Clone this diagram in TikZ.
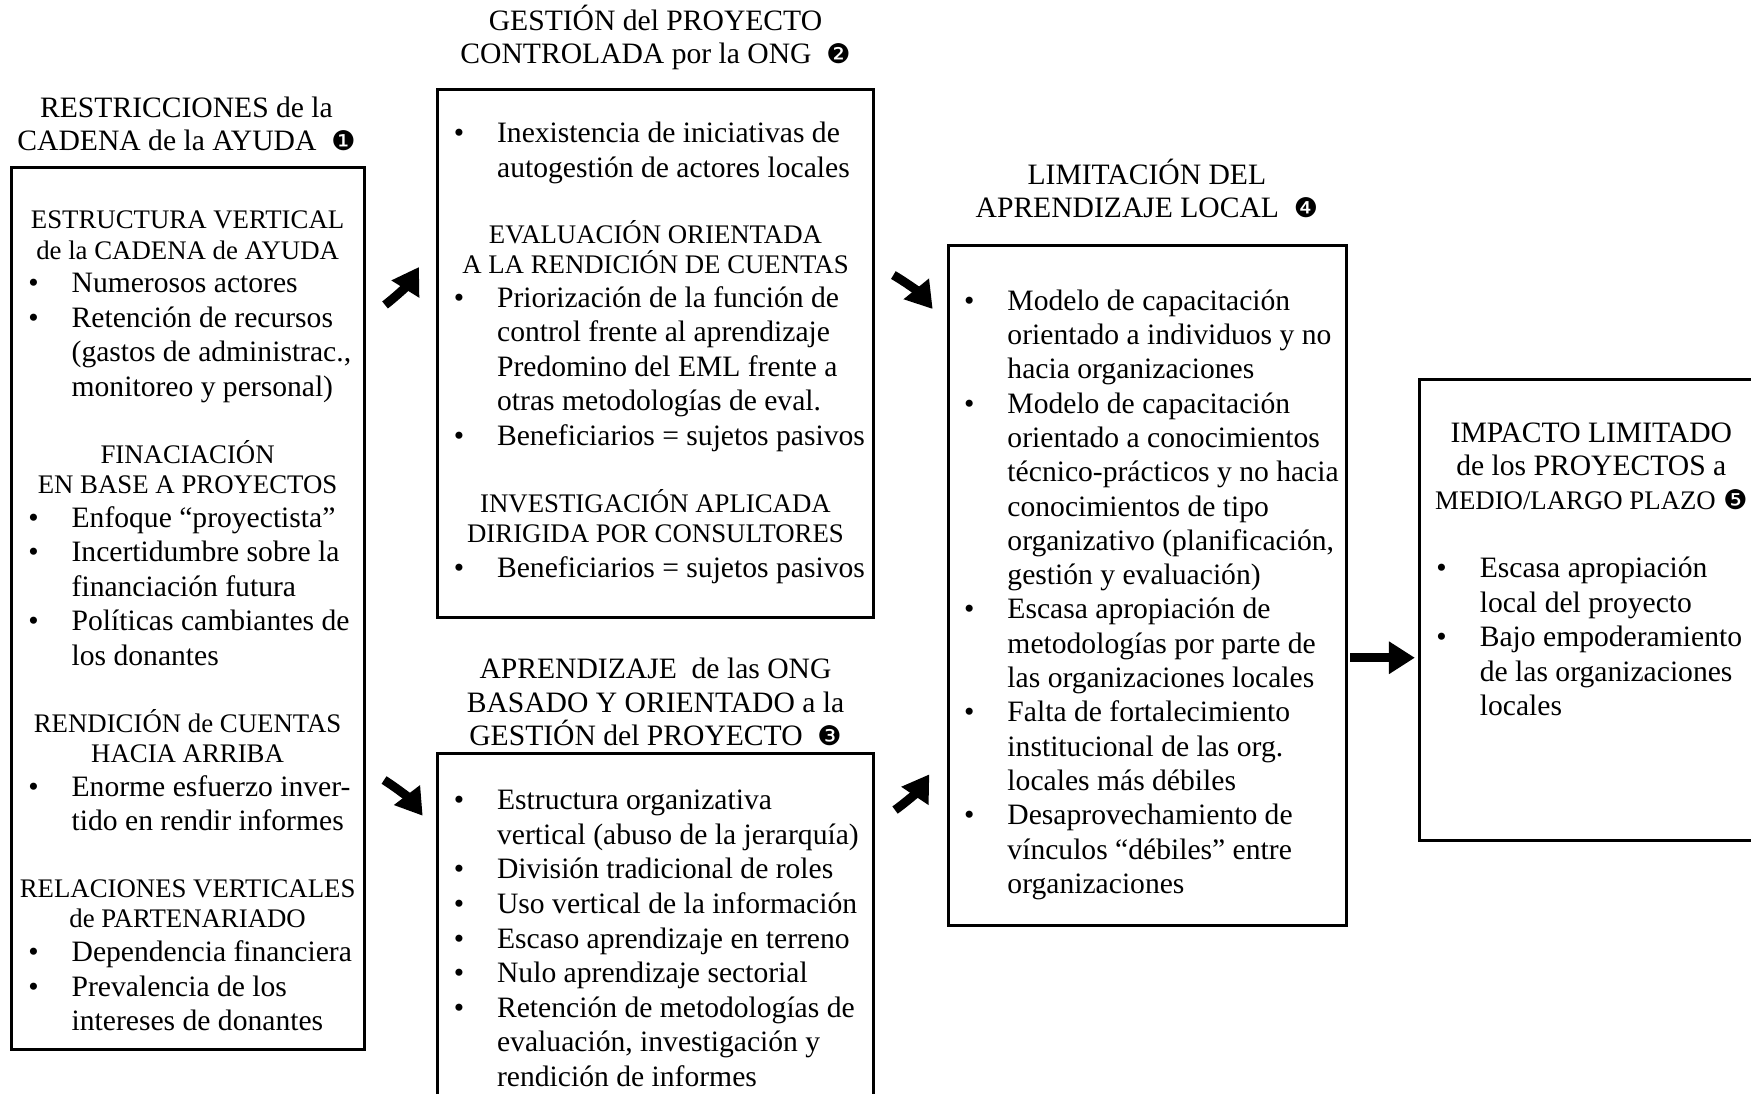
\documentclass[tikz,border=0pt]{standalone}
\usepackage{fontspec}
\setmainfont{Liberation Serif}
\newfontfamily\dingfont{DejaVu Sans}
\usetikzlibrary{arrows.meta}
\newcommand\bodysize{\fontsize{29.6}{34.6}\selectfont}
\newcommand\titlesize{\fontsize{29.6}{33.5}\selectfont}
\newcommand\headsize{\fontsize{26.8}{30.5}\selectfont}
\newcommand\bi{\llap{•\hspace{33pt}}}
\newcommand\num[1]{{\dingfont\fontsize{27}{27}\selectfont #1}}
\begin{document}
% Multi-line nodes are placed by the baseline of their last line.
\begin{tikzpicture}[x=1.1167pt,y=-1.1167pt,
  box/.style={draw, line width=3pt},
  ttl/.style={anchor=base, align=center, inner sep=0pt, font=\titlesize},
  hd/.style={anchor=base, align=center, inner sep=0pt, font=\headsize},
  txt/.style={anchor=base west, align=left, inner sep=0pt, font=\bodysize},
  blk/.style={line width=9pt, -{Triangle[length=26pt,width=31pt]}}]
\clip (0,0) rectangle (1568,979);

% ---- frames ----
\draw[box] (10,150) rectangle (326,940);
\draw[box] (392,80) rectangle (782,553);
\draw[box] (392,675) rectangle (782,1000);
\draw[box] (849,220) rectangle (1206,829);
\draw[box] (1271,340) rectangle (1600,753);

% ---- 1: restrictions of the aid chain ----
\node[ttl] (t1) at (167,135) {RESTRICCIONES de la\\CADENA de la AYUDA\ \ \num{❶}};
\node[hd] (h11) at (168,232) {ESTRUCTURA VERTICAL\\de la CADENA de AYUDA};
\node[txt] (l11) at (64,355) {\bi Numerosos actores\\\bi Retención de recursos\\(gastos de administrac.,\\monitoreo y personal)};
\node[hd] (h12) at (168,442) {FINACIACIÓN\\EN BASE A PROYECTOS};
\node[txt] (l12) at (64,596) {\bi Enfoque “proyectista”\\\bi Incertidumbre sobre la\\financiación futura\\\bi Políticas cambiantes de\\los donantes};
\node[hd] (h13) at (168,683) {RENDICIÓN de CUENTAS\\HACIA ARRIBA};
\node[txt] (l13) at (64,744) {\bi Enorme esfuerzo inver-\\tido en rendir informes};
\node[hd] (h14) at (168,831) {RELACIONES VERTICALES\\de PARTENARIADO};
\node[txt] (l14) at (64,923) {\bi Dependencia financiera\\\bi Prevalencia de los\\intereses de donantes};

% ---- 2: project management controlled by the NGO ----
\node[ttl] (t2) at (587,57) {GESTIÓN del PROYECTO\\CONTROLADA por la ONG\ \ \num{❷}};
\node[txt] (l21) at (445,159) {\bi Inexistencia de iniciativas de\\autogestión de actores locales};
\node[hd] (h21) at (587,245) {EVALUACIÓN ORIENTADA\\A LA RENDICIÓN DE CUENTAS};
\node[txt] (l22) at (445,399) {\bi Priorización de la función de\\control frente al aprendizaje\\Predomino del EML frente a\\otras metodologías de eval.\\\bi Beneficiarios = sujetos pasivos};
\node[hd] (h22) at (587,486) {INVESTIGACIÓN APLICADA\\DIRIGIDA POR CONSULTORES};
\node[txt] (l23) at (445,517) {\bi Beneficiarios = sujetos pasivos};

% ---- 3: NGO learning ----
\node[ttl] (t3) at (587,668) {APRENDIZAJE\ \ de las ONG\\BASADO Y ORIENTADO a la\\GESTIÓN del PROYECTO\ \ \num{❸}};
\node[txt] (l31) at (445,973) {\bi Estructura organizativa\\vertical (abuso de la jerarquía)\\\bi División tradicional de roles\\\bi Uso vertical de la información\\\bi Escaso aprendizaje en terreno\\\bi Nulo aprendizaje sectorial\\\bi Retención de metodologías de\\evaluación, investigación y\\rendición de informes};

% ---- 4: limited local learning ----
\node[ttl] (t4) at (1027,195) {LIMITACIÓN DEL\\APRENDIZAJE LOCAL\ \ \num{❹}};
\node[txt, font=\fontsize{29.6}{34.3}\selectfont] (l41) at (902,800) {\bi Modelo de capacitación\\orientado a individuos y no\\hacia organizaciones\\\bi Modelo de capacitación\\orientado a conocimientos\\técnico-prácticos y no hacia\\conocimientos de tipo\\organizativo (planificación,\\gestión y evaluación)\\\bi Escasa apropiación de\\metodologías por parte de\\las organizaciones locales\\\bi Falta de fortalecimiento\\institucional de las org.\\locales más débiles\\\bi Desaprovechamiento de\\vínculos “débiles” entre\\organizaciones};

% ---- 5: limited impact ----
\node[ttl] (t5) at (1425,456) {IMPACTO LIMITADO\\de los PROYECTOS a\\{\headsize MEDIO/LARGO PLAZO} \num{❺}};
\node[txt] (l51) at (1325,641) {\bi Escasa apropiación\\local del proyecto\\\bi Bajo empoderamiento\\de las organizaciones\\locales};

% ---- block arrows ----
\coordinate (a1s) at (344.8,273.1); \coordinate (a1e) at (375.2,239.1);
\coordinate (a2s) at (343.9,698.5); \coordinate (a2e) at (378.5,730.5);
\coordinate (a3s) at (800,246.3);   \coordinate (a3e) at (835.2,276.7);
\coordinate (a4s) at (801.5,725.4); \coordinate (a4e) at (832.2,693.4);
\coordinate (a5s) at (1209,589);    \coordinate (a5e) at (1267,589);
\draw[blk] (a1s) to[bend right=10] (a1e);
\draw[blk] (a2s) to[bend left=10] (a2e);
\draw[blk] (a3s) to[bend left=10] (a3e);
\draw[blk] (a4s) to[bend right=10] (a4e);
\draw[blk] (a5s) -- (a5e);
\end{tikzpicture}
\end{document}
